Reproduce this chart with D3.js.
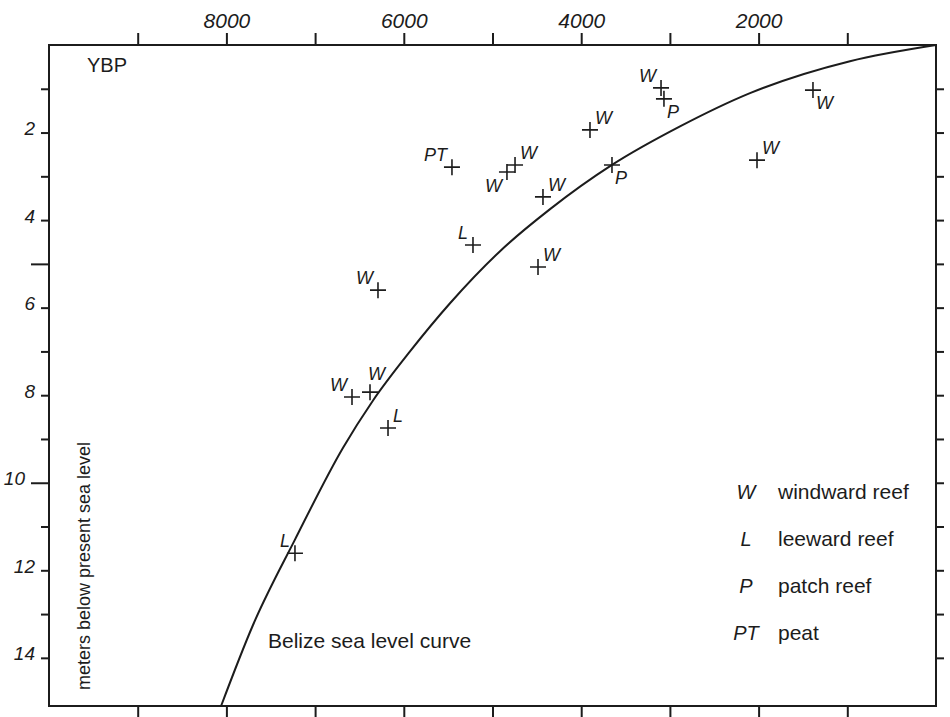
<!DOCTYPE html>
<html lang="en">
<head>
<meta charset="utf-8">
<title>Belize sea level curve</title>
<script src="https://cdn.jsdelivr.net/npm/d3@7"></script>
<style>
  body { margin: 0; background: #fff; }
  svg { display: block; font-family: "Liberation Sans", Arial, Helvetica, sans-serif; }
  .frame { fill: none; stroke: #1c1c1c; stroke-width: 2; }
  .axis path { display: none; }
  .axis line { stroke: #1c1c1c; stroke-width: 2; }
  .axis text { fill: #1c1c1c; font-style: italic; }
  .sea-curve { fill: none; stroke: #1c1c1c; stroke-width: 2; }
  .cross { stroke: #1c1c1c; stroke-width: 1.6; }
  .code { fill: #1c1c1c; font-style: italic; font-size: 18px; }
  .note { fill: #1c1c1c; }
</style>
</head>
<body>
<div id="chart"></div>
<script>

// axis ticks (years before present, meters below present sea level)
var yearTicks   = [9000, 8000, 7000, 6000, 5000, 4000, 3000, 2000, 1000]
var yearLabels  = [8000, 6000, 4000, 2000]
var depthTicks  = [1, 2, 3, 4, 5, 6, 7, 8, 9, 10, 11, 12, 13, 14]
var depthLabels = [2, 4, 6, 8, 10, 12, 14]
var longTicks   = [5, 10]

// Belize sea level curve
var curveYears  = [8060, 7700, 7227, 6685, 6347, 5930, 5479, 4915, 4351, 3653, 2886, 2097, 970, 0]
var curveDepths = [15.1, 13.25, 11.3, 9.2, 8.12, 7.0, 5.9, 4.71, 3.75, 2.74, 1.86, 1.1, 0.37, 0]

// dated samples
var sampleYears  = [5457, 4746, 4837, 4431, 3653, 3901, 5220, 4487, 6291, 3100, 3067, 1387, 2018, 6584, 6381, 6178, 7227]
var sampleDepths = [2.79, 2.74, 2.90, 3.47, 2.74, 1.94, 4.57, 5.07, 5.60, 0.98, 1.23, 1.03, 2.63, 8.04, 7.93, 8.75, 11.61]
var sampleTypes  = ["PT", "W", "W", "W", "P", "W", "L", "W", "W", "W", "P", "W", "W", "W", "W", "L", "L"]

var legendCodes = ["W", "L", "P", "PT"]
var legendNames = ["windward reef", "leeward reef", "patch reef", "peat"]

// where each sample's letter sits around its cross
var labelSide = ["nw", "ne", "sw", "ne", "se", "ne", "nw", "ne", "nw", "nw", "se", "se", "ne", "nw", "n", "ne", "nw"]

var w = 950,
    h = 717;

var svg = d3.select("#chart")
    .append("svg")
    .attr("width", w)
    .attr("height", h);

var x = d3.scaleLinear().domain([10000, 0]).range([49, 936]);
var y = d3.scaleLinear().domain([0, 15.1]).range([45, 706]);

/*
 * Axes and frame
 */

var gTop = svg.append("g")
    .attr("class", "axis")
    .attr("transform", "translate(0," + y(0) + ")")
    .call(d3.axisTop(x).tickValues(yearTicks).tickSize(12).tickPadding(5)
      .tickFormat(function(d){ return yearLabels.indexOf(d) !== -1 ? d : "" }));
gTop.selectAll("text").style("font-size", "21px");

svg.append("g")
    .attr("class", "axis")
    .attr("transform", "translate(0," + y(15.1) + ")")
    .call(d3.axisBottom(x).tickValues(yearTicks).tickSize(12).tickFormat(""));

var gLeft = svg.append("g")
    .attr("class", "axis")
    .attr("transform", "translate(" + x(10000) + ",0)")
    .call(d3.axisLeft(y).tickValues(depthTicks).tickSize(8)
      .tickFormat(function(d){ return depthLabels.indexOf(d) !== -1 ? d : "" }));
gLeft.selectAll(".tick").each(function(d){
  var len = longTicks.indexOf(d) !== -1 ? 18 : 8
  d3.select(this).select("line").attr("x2", -len)
  d3.select(this).select("text").attr("x", -len - 6).attr("dy", "0.1em")
})
gLeft.selectAll("text").style("font-size", "19px");

svg.append("g")
    .attr("class", "axis")
    .attr("transform", "translate(" + x(0) + ",0)")
    .call(d3.axisRight(y).tickValues(depthTicks).tickSize(8).tickFormat(""));

svg.append("rect")
    .attr("class", "frame")
    .attr("x", x(10000))
    .attr("y", y(0))
    .attr("width", x(0) - x(10000))
    .attr("height", y(15.1) - y(0));

/*
 * Sea level curve
 */

var line = d3.line()
    .x(function(i){ return x(curveYears[i]) })
    .y(function(i){ return y(curveDepths[i]) })
    .curve(d3.curveMonotoneX);

svg.append("path")
    .attr("class", "sea-curve")
    .attr("d", line(d3.range(curveYears.length)));

/*
 * Samples
 */

var r = 8;
var labelPos = {
  ne: [5, -6, "start"],
  nw: [-5, -6, "end"],
  se: [3, 19, "start"],
  sw: [-5, 20, "end"],
  n:  [-2, -12, "start"]
}

d3.range(sampleYears.length).forEach(function(i){
  var cx = x(sampleYears[i]),
      cy = y(sampleDepths[i]);

  svg.append("path")
    .attr("class", "cross")
    .attr("d", "M" + (cx - r) + "," + cy + "h" + (2 * r) + "M" + cx + "," + (cy - r) + "v" + (2 * r));

  var p = labelPos[labelSide[i]]
  svg.append("text")
    .attr("class", "code")
    .attr("x", cx + p[0])
    .attr("y", cy + p[1])
    .attr("text-anchor", p[2])
    .text(sampleTypes[i]);
})

/*
 * Legend and notes
 */

legendCodes.forEach(function(c, i){
  var ly = 499 + i * 47
  svg.append("text")
    .attr("class", "code")
    .attr("x", 746)
    .attr("y", ly)
    .attr("text-anchor", "middle")
    .style("font-size", "20px")
    .text(c);
  svg.append("text")
    .attr("class", "note")
    .attr("x", 778)
    .attr("y", ly)
    .style("font-size", "21px")
    .text(legendNames[i]);
})

svg.append("text")
    .attr("class", "note")
    .attr("x", 87)
    .attr("y", 72)
    .style("font-size", "20px")
    .text("YBP");

svg.append("text")
    .attr("class", "note")
    .attr("x", 268)
    .attr("y", 648)
    .style("font-size", "21px")
    .text("Belize sea level curve");

svg.append("text")
    .attr("class", "note")
    .attr("transform", "translate(90,690) rotate(-90)")
    .style("font-size", "18px")
    .text("meters below present sea level");

</script>
</body>
</html>
